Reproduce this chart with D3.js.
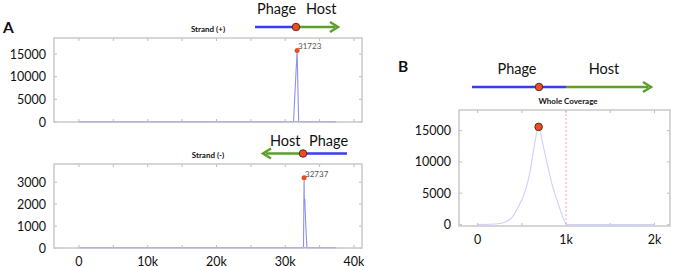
<!DOCTYPE html>
<html>
<head>
<meta charset="utf-8">
<script src="https://cdn.jsdelivr.net/npm/d3@7"></script>
<style>
  body { margin: 0; background: #fff; }
  svg { display: block; font-family: Lato, "Open Sans", sans-serif; }
</style>
</head>
<body>
<svg id="chart" width="675" height="267"></svg>
<script>
// Strand (+) coverage: [position, reads]
const plusCoverage = [[0, 0], [31200, 0], [31723, 15800], [31950, 0], [37400, 0]];
// Strand (-) coverage
const minusCoverage = [[0, 0], [32650, 0], [32737, 3200], [32770, 2300], [32800, 2050],
  [32840, 2250], [32880, 1900], [32950, 1300], [33050, 600], [33150, 0], [37400, 0]];
// Whole coverage around the junction
const wholeCoverage = [[0, 0], [150, 20], [250, 150], [330, 500], [400, 1300], [460, 2800],
  [530, 5000], [590, 8200], [640, 12500], [690, 15600], [735, 13000], [785, 9800],
  [840, 6500], [895, 4000], [945, 1900], [990, 300], [1010, 0], [2000, 0]];

const plusPeak = [31723, 15800];
const minusPeak = [32737, 3200];
const wholePeak = [690, 15600];

const plusYTicks = [0, 5000, 10000, 15000];
const minusYTicks = [0, 1000, 2000, 3000];
const wholeYTicks = [0, 5000, 10000, 15000];
const genomeXTicks = [0, 10000, 20000, 30000, 40000];
const genomeMinorTicks = d3.range(0, 40001, 5000);
const wholeXTicks = [0, 1000, 2000];
const wholeMinorTicks = [0, 500, 1000, 1500, 2000];

const C = {
  box: '#c9c9c9',
  tick: '#bdbdbd',
  spike: '#8f8ff8',
  base: '#6b6bc4',
  smooth: '#cfcfff',
  red: '#ea4d1f',
  blue: '#3b3bf2',
  green: '#5ba02a',
  text: '#111'
};

const svg = d3.select('#chart');

const kFormat = d => d === 0 ? '0' : (d / 1000) + 'k';

function panel(opt) {
  const x = d3.scaleLinear().domain(opt.xDomain).range([opt.left, opt.right]);
  const y = d3.scaleLinear().domain(opt.yDomain).range([opt.bottom, opt.top]);
  const g = svg.append('g');

  // y labels
  g.selectAll('.ylab').data(opt.yTicks).enter().append('text')
    .attr('x', opt.left - 8).attr('y', d => y(d)).attr('dy', '0.36em')
    .attr('text-anchor', 'end').attr('font-size', 12.5).attr('fill', C.text)
    .text(d => d);

  // inner ticks
  const tl = 3;
  opt.xMinor.forEach(v => {
    g.append('line').attr('x1', x(v)).attr('x2', x(v)).attr('y1', opt.top).attr('y2', opt.top + tl)
      .attr('stroke', C.tick);
    g.append('line').attr('x1', x(v)).attr('x2', x(v)).attr('y1', opt.bottom).attr('y2', opt.bottom - tl)
      .attr('stroke', C.tick);
  });
  opt.yTicks.forEach(v => {
    g.append('line').attr('x1', opt.left).attr('x2', opt.left + tl).attr('y1', y(v)).attr('y2', y(v))
      .attr('stroke', C.tick);
    g.append('line').attr('x1', opt.right).attr('x2', opt.right - tl).attr('y1', y(v)).attr('y2', y(v))
      .attr('stroke', C.tick);
  });

  if (opt.xTicks) {
    g.selectAll('.xlab').data(opt.xTicks).enter().append('text')
      .attr('x', d => x(d)).attr('y', opt.bottom + 13).attr('dy', '0.36em')
      .attr('text-anchor', 'middle').attr('font-size', 12.5).attr('fill', C.text)
      .text(kFormat);
  }

  if (opt.dashAt != null) {
    g.append('line').attr('x1', x(opt.dashAt)).attr('x2', x(opt.dashAt))
      .attr('y1', opt.top).attr('y2', opt.bottom)
      .attr('stroke', '#f2a6a6').attr('stroke-dasharray', '2,2');
  }

  const line = d3.line().x(d => x(d[0])).y(d => y(d[1]));
  if (opt.smooth) line.curve(d3.curveMonotoneX);
  if (opt.baseColor) {
    g.append('line').attr('x1', x(0)).attr('x2', x(opt.baseEnd))
      .attr('y1', y(0) - 0.5).attr('y2', y(0) - 0.5)
      .attr('stroke', opt.baseColor).attr('stroke-width', 1.2);
  }
  g.append('path').datum(opt.data).attr('d', line)
    .attr('fill', 'none').attr('stroke', opt.lineColor).attr('stroke-width', 1.1);

  // box
  g.append('rect').attr('x', opt.left).attr('y', opt.top)
    .attr('width', opt.right - opt.left).attr('height', opt.bottom - opt.top)
    .attr('fill', 'none').attr('stroke', C.box).attr('stroke-width', 1.5);

  // peak
  g.append('circle').attr('cx', x(opt.peak[0])).attr('cy', y(opt.peak[1]))
    .attr('r', opt.peakR).attr('fill', C.red)
    .attr('stroke', opt.peakR > 3 ? '#3a1a10' : 'none').attr('stroke-width', 0.8);
  if (opt.peakLabel) {
    g.append('text').attr('x', x(opt.peak[0]) + 1).attr('y', y(opt.peak[1]) - 1)
      .attr('font-size', 8).attr('fill', '#555').text(opt.peak[0]);
  }

  g.append('text').attr('x', opt.title[0]).attr('y', opt.title[1]).attr('dy', '0.36em')
    .attr('text-anchor', 'middle').attr('font-size', opt.title[3]).attr('font-weight', 'bold')
    .attr('fill', C.text).text(opt.title[2]);
}

function junction(x0, xMid, xSplit, x1, yLine, dir, labels) {
  // dir 1: arrow points right (blue left, green right); -1: points left
  const g = svg.append('g');
  const blueStart = dir > 0 ? x0 : xSplit;
  const blueEnd = dir > 0 ? xSplit : x1;
  const greenStart = dir > 0 ? xSplit : x0 + 3;
  const greenEnd = dir > 0 ? x1 - 3 : xSplit;
  g.append('line').attr('x1', blueStart).attr('x2', blueEnd).attr('y1', yLine).attr('y2', yLine)
    .attr('stroke', C.blue).attr('stroke-width', 2.5);
  g.append('line').attr('x1', greenStart).attr('x2', greenEnd).attr('y1', yLine).attr('y2', yLine)
    .attr('stroke', C.green).attr('stroke-width', 2.5);
  const tip = dir > 0 ? x1 : x0;
  const back = tip - dir * 8;
  g.append('path')
    .attr('d', `M${back},${yLine - 5} L${tip},${yLine} L${back},${yLine + 5}`)
    .attr('fill', 'none').attr('stroke', C.green).attr('stroke-width', 2.5)
    .attr('stroke-linejoin', 'miter');
  g.append('circle').attr('cx', xMid).attr('cy', yLine).attr('r', 3.8)
    .attr('fill', C.red).attr('stroke', '#3a1a10').attr('stroke-width', 0.8);
  labels.forEach(l => {
    g.append('text').attr('x', l[0]).attr('y', l[1]).attr('text-anchor', l[3] || 'start')
      .attr('font-size', 14.5).attr('fill', C.text).text(l[2]);
  });
}

// Panel A top: Strand (+)
panel({
  left: 54, right: 362, top: 38, bottom: 122,
  xDomain: [-3630, 41160], yDomain: [0, 18550],
  yTicks: plusYTicks, xMinor: genomeMinorTicks,
  data: plusCoverage, lineColor: C.spike, baseColor: C.base, baseEnd: 37400,
  peak: plusPeak, peakR: 2.5, peakLabel: true,
  title: [208, 29, 'Strand (+)', 8]
});

// Panel A bottom: Strand (-)
panel({
  left: 54, right: 362, top: 164, bottom: 248,
  xDomain: [-3630, 41160], yDomain: [0, 3830],
  yTicks: minusYTicks, xMinor: genomeMinorTicks, xTicks: genomeXTicks,
  data: minusCoverage, lineColor: C.spike, baseColor: C.base, baseEnd: 37400,
  peak: minusPeak, peakR: 2.5, peakLabel: true,
  title: [208, 155, 'Strand (-)', 8]
});

// Panel B: whole coverage
panel({
  left: 459, right: 670, top: 110, bottom: 226,
  xDomain: [-210, 2175], yDomain: [-250, 18300],
  yTicks: wholeYTicks, xMinor: wholeMinorTicks, xTicks: wholeXTicks,
  data: wholeCoverage, lineColor: C.smooth, smooth: true, dashAt: 1000,
  peak: wholePeak, peakR: 3.8, peakLabel: false,
  title: [568, 101, 'Whole Coverage', 8]
});

junction(255, 296, 296, 338, 27, 1, [[257, 14, 'Phage'], [306, 14, 'Host']]);
junction(263, 303, 303, 347, 153.5, -1, [[270, 146, 'Host'], [309, 146, 'Phage']]);
junction(472, 539, 566, 651, 87, 1, [[517, 74, 'Phage', 'middle'], [604, 74, 'Host', 'middle']]);

svg.append('text').attr('x', 3).attr('y', 33).attr('font-size', 15.5).attr('font-weight', 'bold')
  .attr('fill', C.text).text('A');
svg.append('text').attr('x', 398).attr('y', 72).attr('font-size', 15.5).attr('font-weight', 'bold')
  .attr('fill', C.text).text('B');
</script>
</body>
</html>
